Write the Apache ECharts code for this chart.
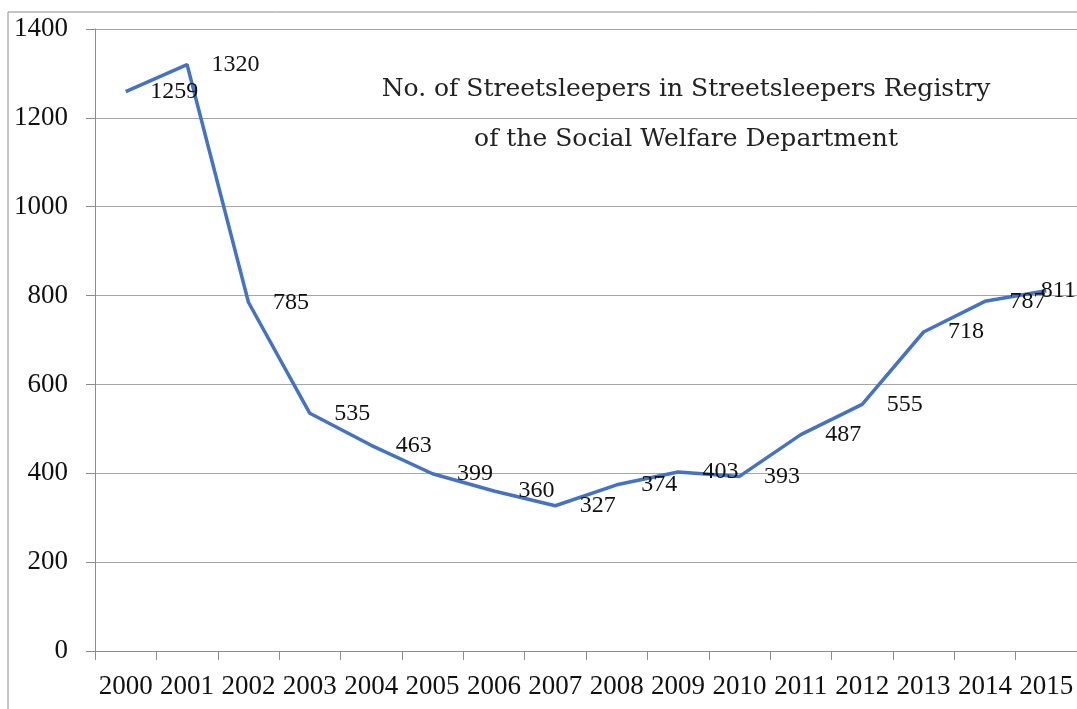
<!DOCTYPE html>
<html>
<head>
<meta charset="utf-8">
<script src="https://cdn.jsdelivr.net/npm/echarts@6/dist/echarts.min.js"></script>
<style>
html,body{margin:0;padding:0;background:#fff;}
#chart{width:1077px;height:709px;}
</style>
</head>
<body>
<div id="chart"></div>
<script>
const years = ['2000','2001','2002','2003','2004','2005','2006','2007','2008','2009','2010','2011','2012','2013','2014','2015'];
const sleepers = [1259,1320,785,535,463,399,360,327,374,403,393,487,555,718,787,811];
const titleLines = ['No. of Streetsleepers in Streetsleepers Registry','of the Social Welfare Department'];
const yMin = 0, yMax = 1400, yStep = 200;

const serif = '"Liberation Serif", "DejaVu Serif", serif';
const titleFont = '25px "DejaVu Serif", "Liberation Serif", serif';
const seriesData = sleepers.map((v, i) => i === sleepers.length - 1
  ? { value: v, label: { distance: -6 } }
  : v);

const chart = echarts.init(document.getElementById('chart'), null, { renderer: 'canvas' });
chart.setOption({
  animation: false,
  backgroundColor: '#fff',
  grid: { left: 95, right: 0, top: 29, bottom: 58, containLabel: false },
  graphic: [
    { type: 'rect', x: 8, y: 12, shape: { x: 0, y: 0, width: 1200, height: 900 },
      style: { fill: 'none', stroke: '#8c8c8c', lineWidth: 1 }, silent: true, z: -1 },
    { type: 'text', x: 686, y: 89, silent: true,
      style: { text: titleLines[0], font: titleFont, fill: '#222', align: 'center', verticalAlign: 'middle' } },
    { type: 'text', x: 686, y: 139, silent: true,
      style: { text: titleLines[1], font: titleFont, fill: '#222', align: 'center', verticalAlign: 'middle' } }
  ],
  xAxis: {
    type: 'category',
    data: years,
    boundaryGap: true,
    axisLine: { lineStyle: { color: '#8c8c8c', width: 1 } },
    axisTick: { show: true, alignWithLabel: false, length: 9, lineStyle: { color: '#8c8c8c' } },
    axisLabel: { color: '#111', fontFamily: serif, fontSize: 27, margin: 22, interval: 0 }
  },
  yAxis: {
    type: 'value',
    min: yMin, max: yMax, interval: yStep,
    axisLine: { show: true, lineStyle: { color: '#8c8c8c', width: 1 } },
    axisTick: { show: true, length: 9, lineStyle: { color: '#8c8c8c' } },
    axisLabel: { color: '#111', fontFamily: serif, fontSize: 27, margin: 27, formatter: v => String(v) },
    splitLine: { show: true, lineStyle: { color: '#a6a6a6', width: 1 } }
  },
  series: [{
    type: 'line',
    data: seriesData,
    symbol: 'circle',
    symbolSize: 1,
    showSymbol: true,
    lineStyle: { color: '#4472C4', width: 3.5 },
    itemStyle: { color: 'rgba(68,114,196,0)', borderWidth: 0 },
    label: { show: true, position: 'right', distance: 24, color: '#111', fontFamily: serif, fontSize: 24 },
    labelLayout: { hideOverlap: false }
  }]
});
</script>
</body>
</html>
